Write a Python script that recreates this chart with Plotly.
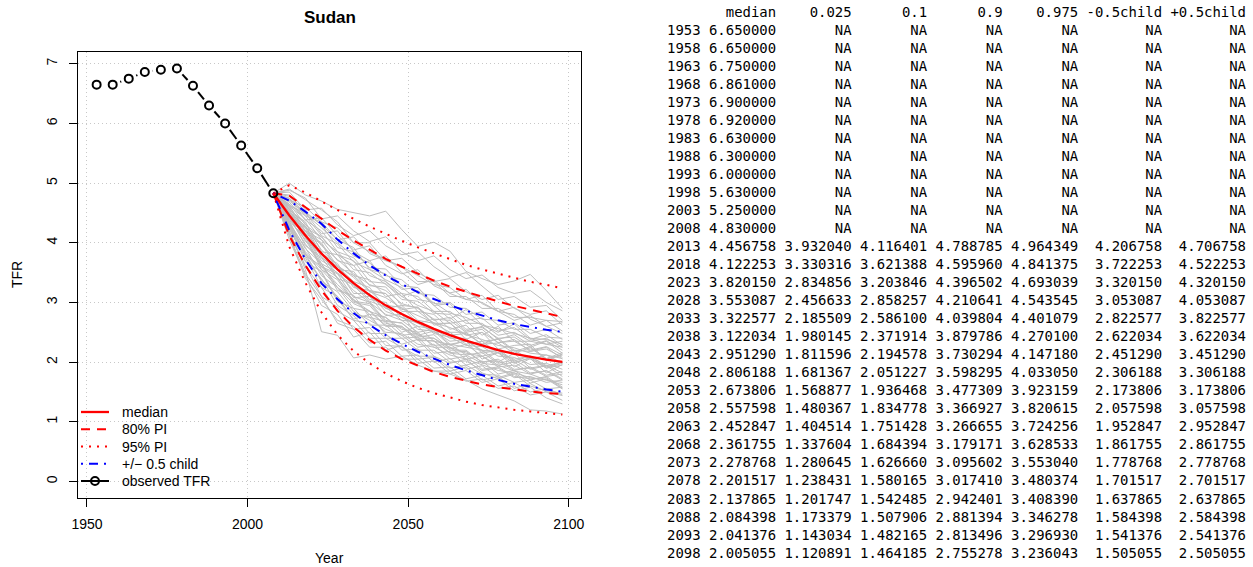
import plotly.graph_objects as go
import math

# ---------------- data ----------------
obs_years = [1953, 1958, 1963, 1968, 1973, 1978, 1983, 1988, 1993, 1998, 2003, 2008]
obs_tfr = [6.65, 6.65, 6.75, 6.861, 6.90, 6.92, 6.63, 6.30, 6.00, 5.63, 5.25, 4.83]

proj_years = [2013, 2018, 2023, 2028, 2033, 2038, 2043, 2048, 2053, 2058,
              2063, 2068, 2073, 2078, 2083, 2088, 2093, 2098]
median = [4.456758, 4.122253, 3.820150, 3.553087, 3.322577, 3.122034, 2.951290, 2.806188, 2.673806,
          2.557598, 2.452847, 2.361755, 2.278768, 2.201517, 2.137865, 2.084398, 2.041376, 2.005055]
q025 = [3.932040, 3.330316, 2.834856, 2.456633, 2.185509, 1.980145, 1.811596, 1.681367, 1.568877,
        1.480367, 1.404514, 1.337604, 1.280645, 1.238431, 1.201747, 1.173379, 1.143034, 1.120891]
q10 = [4.116401, 3.621388, 3.203846, 2.858257, 2.586100, 2.371914, 2.194578, 2.051227, 1.936468,
       1.834778, 1.751428, 1.684394, 1.626660, 1.580165, 1.542485, 1.507906, 1.482165, 1.464185]
q90 = [4.788785, 4.595960, 4.396502, 4.210641, 4.039804, 3.879786, 3.730294, 3.598295, 3.477309,
       3.366927, 3.266655, 3.179171, 3.095602, 3.017410, 2.942401, 2.881394, 2.813496, 2.755278]
q975 = [4.964349, 4.841375, 4.693039, 4.543545, 4.401079, 4.270100, 4.147180, 4.033050, 3.923159,
        3.820615, 3.724256, 3.628533, 3.553040, 3.480374, 3.408390, 3.346278, 3.296930, 3.236043]
minus_half = [4.206758, 3.722253, 3.320150, 3.053087, 2.822577, 2.622034, 2.451290, 2.306188, 2.173806,
              2.057598, 1.952847, 1.861755, 1.778768, 1.701517, 1.637865, 1.584398, 1.541376, 1.505055]
plus_half = [4.706758, 4.522253, 4.320150, 4.053087, 3.822577, 3.622034, 3.451290, 3.306188, 3.173806,
             3.057598, 2.952847, 2.861755, 2.778768, 2.701517, 2.637865, 2.584398, 2.541376, 2.505055]

# grey trajectories (estimated by eye), values for 2013..2098
trajectories = [
    [5.00, 4.80, 4.70, 4.56, 4.51, 4.45, 4.53, 4.22, 3.94, 4.01, 3.86, 3.52, 3.40, 3.30, 3.36, 3.47, 3.20, 2.90],
    [4.85, 4.55, 4.58, 4.30, 4.12, 4.20, 3.95, 3.80, 3.85, 3.60, 3.42, 3.50, 3.28, 3.05, 3.10, 2.92, 2.95, 2.70],
    [4.70, 4.50, 4.15, 4.20, 3.85, 3.70, 3.78, 3.50, 3.30, 3.38, 3.15, 3.05, 3.12, 2.85, 2.70, 2.78, 2.60, 2.48],
    [4.60, 4.25, 4.10, 3.80, 3.62, 3.70, 3.35, 3.10, 3.20, 2.95, 2.72, 2.88, 2.62, 2.50, 2.64, 2.40, 2.30, 2.35],
    [4.55, 4.15, 3.98, 3.55, 3.52, 3.18, 3.15, 2.88, 2.92, 2.62, 2.66, 2.38, 2.50, 2.22, 2.28, 2.30, 2.02, 2.14],
    [4.40, 4.12, 3.60, 3.48, 3.08, 3.10, 2.78, 2.80, 2.45, 2.52, 2.28, 2.36, 2.05, 2.16, 1.92, 2.06, 1.82, 1.96],
    [4.30, 3.82, 3.50, 3.02, 2.90, 2.62, 2.62, 2.40, 2.42, 2.15, 2.18, 1.95, 2.02, 1.80, 1.86, 1.70, 1.76, 1.58],
    [4.20, 3.55, 2.51, 2.45, 2.07, 2.12, 2.05, 2.10, 1.95, 1.85, 1.80, 1.70, 1.55, 1.45, 1.35, 1.20, 1.18, 1.13],
    [4.10, 3.40, 3.05, 2.70, 2.60, 2.32, 2.35, 2.10, 2.12, 1.90, 1.92, 1.72, 1.78, 1.60, 1.66, 1.50, 1.56, 1.45],
    [4.50, 4.20, 3.82, 3.65, 3.25, 3.20, 2.95, 2.92, 2.65, 2.72, 2.45, 2.48, 2.30, 2.32, 2.15, 2.24, 2.05, 2.12],
    [4.65, 4.30, 4.10, 3.80, 3.70, 3.35, 3.32, 3.05, 3.02, 2.82, 2.80, 2.55, 2.58, 2.40, 2.42, 2.25, 2.35, 2.15],
    [4.35, 3.90, 3.65, 3.20, 3.12, 2.75, 2.68, 2.45, 2.48, 2.28, 2.30, 2.12, 2.16, 1.98, 2.04, 1.88, 1.94, 1.76],
    [4.45, 4.25, 3.75, 3.55, 3.30, 3.10, 2.90, 2.82, 2.55, 2.52, 2.35, 2.38, 2.18, 2.22, 2.02, 2.10, 1.92, 2.00],
    [4.25, 3.70, 3.40, 2.95, 2.78, 2.48, 2.48, 2.20, 2.22, 2.00, 2.06, 1.88, 1.94, 1.74, 1.82, 1.65, 1.72, 1.55],
    [4.55, 4.35, 3.85, 3.80, 3.45, 3.38, 3.10, 3.15, 2.85, 2.80, 2.55, 2.62, 2.35, 2.38, 2.18, 2.26, 2.06, 2.16],
    [4.75, 4.45, 4.35, 4.05, 3.92, 3.55, 3.48, 3.22, 3.25, 2.95, 2.98, 2.70, 2.74, 2.52, 2.58, 2.38, 2.46, 2.28],
    [4.38, 4.05, 3.60, 3.42, 3.02, 2.98, 2.68, 2.66, 2.42, 2.46, 2.22, 2.30, 2.10, 2.16, 1.98, 2.08, 1.90, 1.98],
    [4.15, 3.62, 3.10, 2.92, 2.55, 2.58, 2.28, 2.26, 2.05, 2.08, 1.85, 1.92, 1.70, 1.76, 1.56, 1.64, 1.50, 1.44],
    [4.62, 4.20, 4.05, 3.70, 3.62, 3.28, 3.26, 2.95, 2.92, 2.70, 2.75, 2.52, 2.60, 2.38, 2.46, 2.28, 2.36, 2.20],
    [4.48, 4.15, 3.70, 3.55, 3.15, 3.15, 2.85, 2.75, 2.60, 2.55, 2.40, 2.40, 2.15, 2.20, 2.00, 2.06, 1.90, 1.95],
    [4.80, 4.52, 4.30, 3.92, 3.85, 3.58, 3.56, 3.28, 3.25, 2.98, 3.00, 2.80, 2.84, 2.62, 2.66, 2.48, 2.55, 2.38],
    [4.32, 3.92, 3.45, 3.25, 2.90, 2.85, 2.60, 2.60, 2.40, 2.40, 2.20, 2.20, 2.00, 2.05, 1.88, 1.90, 1.76, 1.80],
    [4.52, 4.02, 3.85, 3.40, 3.30, 3.05, 3.00, 2.75, 2.65, 2.50, 2.50, 2.30, 2.35, 2.15, 2.20, 2.05, 2.12, 1.98],
    [4.40, 4.15, 3.65, 3.50, 3.20, 3.00, 2.80, 2.70, 2.50, 2.55, 2.30, 2.35, 2.20, 2.16, 2.05, 2.10, 1.94, 2.00],
    [4.68, 4.38, 4.20, 3.85, 3.75, 3.45, 3.35, 3.15, 3.10, 2.85, 2.85, 2.65, 2.65, 2.45, 2.50, 2.35, 2.40, 2.25],
    [4.22, 3.75, 3.25, 3.10, 2.70, 2.65, 2.40, 2.40, 2.20, 2.20, 2.00, 2.02, 1.86, 1.90, 1.74, 1.76, 1.66, 1.70],
    [4.58, 4.18, 4.00, 3.60, 3.45, 3.20, 3.15, 2.85, 2.85, 2.65, 2.65, 2.45, 2.50, 2.33, 2.35, 2.20, 2.26, 2.12],
    [4.12, 3.48, 3.10, 2.65, 2.55, 2.25, 2.25, 2.05, 2.05, 1.85, 1.85, 1.68, 1.72, 1.56, 1.60, 1.45, 1.50, 1.36],
    [4.90, 4.72, 4.55, 4.35, 4.00, 4.00, 3.70, 3.60, 3.35, 3.35, 3.10, 3.10, 2.90, 2.90, 2.75, 2.75, 2.70, 2.68],
    [4.42, 3.98, 3.65, 3.25, 3.05, 2.80, 2.75, 2.55, 2.50, 2.25, 2.25, 2.05, 2.10, 1.92, 1.95, 1.80, 1.86, 1.72],
    [4.28, 3.82, 3.35, 3.18, 2.85, 2.70, 2.55, 2.45, 2.25, 2.30, 2.05, 2.10, 1.88, 1.92, 1.76, 1.72, 1.74, 1.56],
    [4.50, 4.28, 3.80, 3.60, 3.35, 3.25, 2.90, 2.95, 2.70, 2.65, 2.50, 2.50, 2.30, 2.40, 2.20, 2.18, 2.22, 2.08],
    [4.36, 3.80, 3.60, 3.30, 3.05, 2.85, 2.75, 2.50, 2.60, 2.35, 2.30, 2.25, 2.20, 2.00, 2.15, 1.90, 1.95, 1.82],
    [4.62, 4.40, 4.05, 3.85, 3.55, 3.50, 3.30, 3.10, 2.95, 2.85, 2.65, 2.70, 2.45, 2.60, 2.35, 2.35, 2.30, 2.25],
    [4.18, 3.60, 3.25, 2.85, 2.70, 2.40, 2.40, 2.25, 2.10, 2.10, 1.90, 1.95, 1.80, 1.78, 1.66, 1.70, 1.55, 1.58],
    [4.72, 4.60, 4.35, 4.25, 4.00, 3.85, 3.72, 3.60, 3.45, 3.30, 3.25, 3.05, 3.00, 2.85, 2.80, 2.62, 2.70, 2.52],
    [4.45, 3.95, 3.75, 3.40, 3.10, 3.00, 2.70, 2.65, 2.45, 2.40, 2.25, 2.15, 2.10, 1.95, 2.00, 1.82, 1.85, 1.70],
    [4.35, 4.10, 3.55, 3.38, 3.00, 2.95, 2.65, 2.60, 2.38, 2.35, 2.15, 2.12, 1.98, 1.95, 1.85, 1.80, 1.70, 1.66],
    [4.56, 4.32, 3.95, 3.72, 3.48, 3.30, 3.20, 2.98, 2.90, 2.72, 2.70, 2.50, 2.55, 2.32, 2.38, 2.18, 2.25, 2.05],
    [4.26, 3.78, 3.38, 3.10, 2.80, 2.75, 2.50, 2.48, 2.30, 2.25, 2.12, 2.05, 1.96, 1.86, 1.82, 1.74, 1.70, 1.62],
    [4.78, 4.48, 4.25, 4.00, 3.78, 3.66, 3.45, 3.38, 3.15, 3.12, 2.92, 2.90, 2.72, 2.70, 2.55, 2.55, 2.42, 2.40],
    [4.46, 4.08, 3.78, 3.48, 3.28, 3.02, 2.92, 2.70, 2.68, 2.48, 2.42, 2.28, 2.26, 2.10, 2.08, 1.96, 1.98, 1.88],
    [4.52, 4.28, 3.88, 3.62, 3.42, 3.18, 3.08, 2.90, 2.78, 2.66, 2.58, 2.46, 2.38, 2.28, 2.24, 2.15, 2.12, 2.06],
    [4.32, 3.85, 3.55, 3.25, 2.98, 2.86, 2.62, 2.58, 2.36, 2.36, 2.16, 2.18, 2.00, 2.02, 1.86, 1.92, 1.78, 1.84],
    [4.64, 4.45, 4.12, 3.98, 3.68, 3.55, 3.38, 3.25, 3.05, 3.00, 2.82, 2.75, 2.62, 2.56, 2.48, 2.40, 2.38, 2.30],
    [4.88, 4.75, 4.40, 4.45, 4.20, 4.02, 4.10, 3.85, 3.70, 3.78, 3.55, 3.40, 3.46, 3.25, 3.15, 3.20, 3.00, 2.86],
    [4.62, 4.50, 4.30, 4.05, 4.10, 3.82, 3.70, 3.74, 3.50, 3.35, 3.40, 3.18, 3.05, 3.12, 2.90, 2.80, 2.86, 2.62],
    [4.74, 4.38, 4.42, 4.12, 3.88, 3.95, 3.62, 3.48, 3.55, 3.28, 3.16, 3.22, 2.98, 2.85, 2.92, 2.72, 2.60, 2.66],
    [4.05, 3.45, 2.95, 2.80, 2.42, 2.50, 2.20, 2.28, 1.98, 2.02, 1.80, 1.86, 1.66, 1.72, 1.52, 1.58, 1.40, 1.30],
    [4.30, 3.68, 3.52, 3.05, 2.72, 2.80, 2.46, 2.30, 2.38, 2.10, 1.98, 2.05, 1.82, 1.72, 1.80, 1.60, 1.52, 1.48],
]

title = "Sudan"
x_label = "Year"
y_label = "TFR"
x_ticks = [1950, 2000, 2050, 2100]
y_ticks = [0, 1, 2, 3, 4, 5, 6, 7]
legend_labels = ["median", "80% PI", "95% PI", "+/\u2212 0.5 child", "observed TFR"]

# ---------------- layout constants ----------------
W, H = 1253, 567
ML, MR, MT, MB = 78, 672, 52, 69
PW, PH = W - ML - MR, H - MT - MB

xlo, xhi = min(obs_years), max(proj_years)
xpad = 0.04 * (xhi - xlo)
x_range = [xlo - xpad, xhi + xpad]
ylo, yhi = 0, max(obs_tfr)
ypad = 0.04 * (yhi - ylo)
y_range = [ylo - ypad, yhi + ypad]

sx = PW / (x_range[1] - x_range[0])
sy = PH / (y_range[1] - y_range[0])

last_year, last_val = obs_years[-1], obs_tfr[-1]
px_years = [last_year] + proj_years

red = "#ff0000"
blue = "#0000ff"
grey = "#bebebe"
dash80 = "9px,7px"
dash95 = "2px,6px"
dashhalf = "2px,6px,9px,6px"
FONT = "Liberation Sans, Arial, sans-serif"

fig = go.Figure()

for tr in trajectories:
    fig.add_trace(go.Scatter(x=px_years, y=[last_val] + tr, mode="lines",
                             line=dict(color=grey, width=1), showlegend=False, hoverinfo="skip"))

for q in [q975, q025]:
    fig.add_trace(go.Scatter(x=px_years, y=[last_val] + q, mode="lines",
                             line=dict(color=red, width=2, dash=dash95), showlegend=False))
for q in [q90, q10]:
    fig.add_trace(go.Scatter(x=px_years, y=[last_val] + q, mode="lines",
                             line=dict(color=red, width=2, dash=dash80), showlegend=False))
for q in [plus_half, minus_half]:
    fig.add_trace(go.Scatter(x=px_years, y=[last_val] + q, mode="lines",
                             line=dict(color=blue, width=2, dash=dashhalf), showlegend=False))
fig.add_trace(go.Scatter(x=px_years, y=[last_val] + median, mode="lines",
                         line=dict(color=red, width=2.3), showlegend=False))

# observed: segments with gaps around points (R type="b")
gap = 8.0
seg_x, seg_y = [], []
for i in range(len(obs_years) - 1):
    x1, y1, x2, y2 = obs_years[i], obs_tfr[i], obs_years[i + 1], obs_tfr[i + 1]
    dxp, dyp = (x2 - x1) * sx, (y2 - y1) * sy
    L = math.hypot(dxp, dyp)
    if L > 2 * gap:
        f = gap / L
        seg_x += [x1 + (x2 - x1) * f, x2 - (x2 - x1) * f, None]
        seg_y += [y1 + (y2 - y1) * f, y2 - (y2 - y1) * f, None]
fig.add_trace(go.Scatter(x=seg_x, y=seg_y, mode="lines", line=dict(color="black", width=2),
                         showlegend=False, hoverinfo="skip"))
fig.add_trace(go.Scatter(x=obs_years, y=obs_tfr, mode="markers",
                         marker=dict(symbol="circle-open", size=8, color="black", line=dict(width=2)),
                         showlegend=False))


def px2x(p):
    return (p - ML) / PW


def py2y(p):
    return (H - MB - p) / PH


annotations = [
    dict(text="<b>" + title + "</b>", x=px2x(329.5), y=py2y(17), xref="paper", yref="paper",
         xanchor="center", yanchor="middle", showarrow=False,
         font=dict(size=17, family=FONT, color="black")),
    dict(text=x_label, x=px2x(329.5), y=py2y(558), xref="paper", yref="paper",
         xanchor="center", yanchor="middle", showarrow=False,
         font=dict(size=14, family=FONT, color="black")),
    dict(text=y_label, x=px2x(17), y=py2y(275), xref="paper", yref="paper", textangle=-90,
         xanchor="center", yanchor="middle", showarrow=False,
         font=dict(size=14, family=FONT, color="black")),
]

# ---------------- manual legend (R style, no box) ----------------
shapes = []
leg_styles = [dict(color=red, width=2.3), dict(color=red, width=2, dash=dash80),
              dict(color=red, width=2, dash=dash95), dict(color=blue, width=2, dash=dashhalf),
              dict(color="black", width=2)]
leg_y0, leg_dy = 412, 17.25
for i, (lab, st) in enumerate(zip(legend_labels, leg_styles)):
    yc = py2y(leg_y0 + i * leg_dy)
    shapes.append(dict(type="line", xref="paper", yref="paper", x0=px2x(81), x1=px2x(109),
                       y0=yc, y1=yc, line=st, layer="above"))
    annotations.append(dict(text=lab, x=px2x(119.5), y=yc, xref="paper", yref="paper",
                            xanchor="left", yanchor="middle", showarrow=False,
                            font=dict(size=14, family=FONT, color="black")))
yc = py2y(leg_y0 + 4 * leg_dy)
shapes.append(dict(type="circle", xref="paper", yref="paper", xsizemode="pixel", ysizemode="pixel",
                   xanchor=px2x(95), yanchor=yc, x0=-4, x1=4, y0=-4, y1=4,
                   line=dict(color="black", width=2), fillcolor="rgba(0,0,0,0)", layer="above"))

# ---------------- printed table ----------------
NB = "\u00a0"
cols = ["median", "0.025", "0.1", "0.9", "0.975", "-0.5child", "+0.5child"]
widths = [8, 8, 8, 8, 8, 9, 9]
all_years = obs_years + proj_years
n_obs = len(obs_years)
col_data = [obs_tfr + median,
            [None] * n_obs + q025,
            [None] * n_obs + q10,
            [None] * n_obs + q90,
            [None] * n_obs + q975,
            [None] * n_obs + minus_half,
            [None] * n_obs + plus_half]

lines = [" " * 4 + "".join(" " + c.rjust(w) for c, w in zip(cols, widths))]
for r, yr in enumerate(all_years):
    s = str(yr)
    for c, w in zip(col_data, widths):
        v = c[r]
        s += " " + ("NA" if v is None else f"{v:.6f}").rjust(w)
    lines.append(s)

tx0 = 665.5
ty0, tdy = 11.7, 18.03
for i, ln in enumerate(lines):
    annotations.append(dict(text=ln.replace(" ", NB), x=px2x(tx0), y=py2y(ty0 + i * tdy),
                            xref="paper", yref="paper", xanchor="left", yanchor="middle",
                            showarrow=False, borderpad=0,
                            font=dict(size=13.95, family="DejaVu Sans Mono, monospace", color="black")))

axis_common = dict(showline=True, mirror=True, linecolor="black", linewidth=1,
                   ticks="outside", ticklen=8, tickcolor="black", tickwidth=1,
                   showgrid=True, gridcolor="#c8c8c8", griddash="1px,3px", gridwidth=1,
                   zeroline=False, tickfont=dict(size=14, family=FONT, color="black"))

fig.update_layout(
    width=W, height=H, autosize=False,
    margin=dict(l=ML, r=MR, t=MT, b=MB, pad=0),
    paper_bgcolor="white", plot_bgcolor="white",
    xaxis=dict(range=x_range, tickvals=x_ticks, ticklabelstandoff=5, **axis_common),
    yaxis=dict(range=y_range, tickvals=y_ticks, tickangle=-90, ticklabelstandoff=6, **axis_common),
    showlegend=False,
    annotations=annotations,
    shapes=shapes,
)

fig.write_html("out.html", config={"displayModeBar": False},
               post_script="document.body.style.margin='0';document.body.style.overflow='hidden';")
